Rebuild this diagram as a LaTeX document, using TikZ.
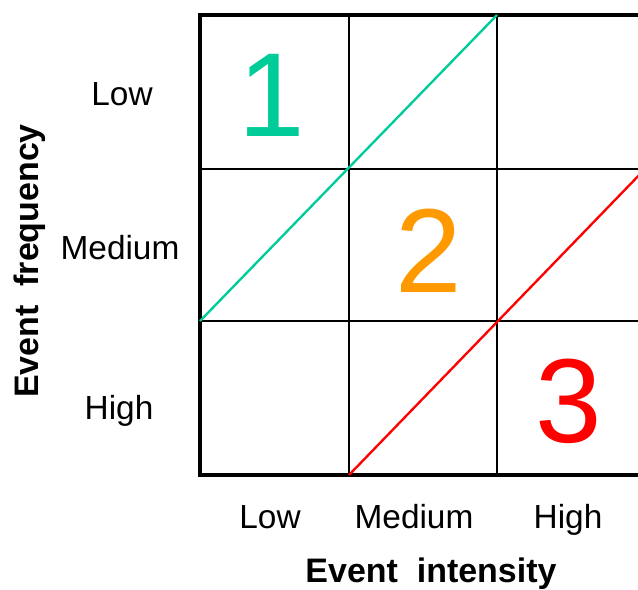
\documentclass[tikz,border=0pt]{standalone}
\usepackage{fontspec}
\setmainfont{Liberation Sans}
\usetikzlibrary{positioning}
\definecolor{riskgreen}{RGB}{0,204,153}
\definecolor{riskorange}{RGB}{255,153,0}
\definecolor{riskred}{RGB}{255,0,0}

\begin{document}
\begin{tikzpicture}[x=0.03cm,y=-0.03cm,
        lbl/.style={anchor=base,font=\fontsize{28.5}{34}\selectfont},
        ax/.style={anchor=base,font=\fontsize{29}{34}\selectfont\bfseries},
        num/.style={anchor=base,font=\fontsize{102}{106}\selectfont},
        thin/.style={line width=1.4pt},
        diag/.style={line width=2pt}]
        \useasboundingbox (0,0) rectangle (638,590);
        \begin{scope}
          \clip (0,0) rectangle (638,590);
          \draw[thin] (349,15)--(349,475) (497,15)--(497,475);
          \draw[thin] (200,169)--(645,169) (200,321)--(645,321);
          \draw[line width=3.4pt] (645,15)--(200,15)--(200,475)--(645,475);
          \coordinate (g1) at (200,321);
          \coordinate (g2) at (497,15);
          \coordinate (r1) at (349,475);
          \coordinate (r2) at (645,169);
          \draw[diag,riskgreen] (g1)--(g2);
          \draw[diag,riskred] (r1)--(r2);
        \end{scope}
        \node[num,riskgreen] (zone1) at (272,137) {1};
        \node[num,riskorange] (zone2) at (429,292) {2};
        \node[num,riskred] (zone3) at (569,442) {3};
        \node[lbl] (flow) at (122,105) {Low};
        \node[lbl] (fmed) at (120,259) {Medium};
        \node[lbl] (fhigh) at (119,419) {High};
        \node[lbl] (ilow) at (270,528) {Low};
        \node[lbl] (imed) at (414,528) {Medium};
        \node[lbl] (ihigh) at (568,528) {High};
        \node[ax] (xaxis) at (431,582) {Event\ \ intensity};
        \node[ax,rotate=90] (yaxis) at (39,261) {Event\ \ frequency};
      \end{tikzpicture}
\end{document}
